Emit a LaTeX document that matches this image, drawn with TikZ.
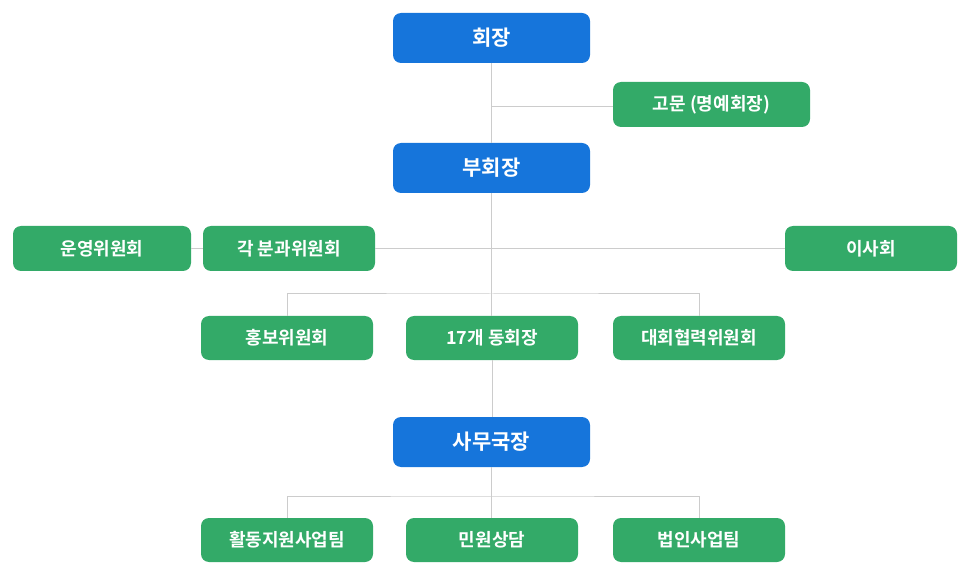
\documentclass[tikz,border=0pt]{standalone}
\usepackage{fontspec}
\setmainfont{Noto Sans CJK KR}[BoldFont={* Bold}]
\definecolor{bluebox}{HTML}{1675DB}
\definecolor{greenbox}{HTML}{33AA68}
\definecolor{linegray}{HTML}{CCCCCC}
\begin{document}
\begin{tikzpicture}[x=1pt,y=-1pt,
  bluenode/.style={fill=bluebox, rounded corners=8pt, minimum width=197pt, minimum height=50pt, inner sep=0pt, text=white, font=\fontsize{21}{24}\selectfont\bfseries},
  greennode/.style={fill=greenbox, rounded corners=8pt, minimum width=172pt, minimum height=44pt, inner sep=0pt, text=white, font=\fontsize{18}{21}\selectfont\bfseries},
  conn/.style={draw=linegray, line width=1pt}]
\useasboundingbox (0,0) rectangle (970,580);
\coordinate (c1) at (491.5,106.5);
\coordinate (c2) at (491.5,294);
\coordinate (c3) at (491.5,496);
\node[bluenode] (hj) at (491.5,38) {회장};
\node[greennode, minimum width=197pt, minimum height=45pt] (gm) at (711.5,104.5) {고문 (명예회장)};
\node[bluenode] (bh) at (491.5,168) {부회장};
\node[greennode, minimum width=178pt, minimum height=45pt] (uy) at (102,248.5) {운영위원회};
\node[greennode, minimum height=45pt] (gb) at (289,248.5) {각 분과위원회};
\node[greennode, minimum height=45pt] (is) at (871,248.5) {이사회};
\node[greennode] (hb) at (287,338) {홍보위원회};
\node[greennode] (dh) at (492,338) {17개 동회장};
\node[greennode] (dr) at (699,338) {대회협력위원회};
\node[bluenode] (sm) at (491.5,442) {사무국장};
\node[greennode] (t1) at (287,540) {활동지원사업팀};
\node[greennode] (t2) at (492,540) {민원상담};
\node[greennode] (t3) at (699,540) {법인사업팀};
\draw[conn] (hj.south) -- (bh.north);
\draw[conn] (c1) -- (c1 -| gm.west);
\draw[conn] (bh.south) -- (bh.south |- dh.north);
\draw[conn] (uy.east) -- (gb.west);
\draw[conn] (gb.east) -- (is.west);
\draw[conn] (hb.north) |- (c2) -| (dr.north);
\draw[conn] (dh.south) -- (dh.south |- sm.north);
\draw[conn] (sm.south) -- (sm.south |- t2.north);
\draw[conn] (t1.north) |- (c3) -| (t3.north);
\end{tikzpicture}
\end{document}
